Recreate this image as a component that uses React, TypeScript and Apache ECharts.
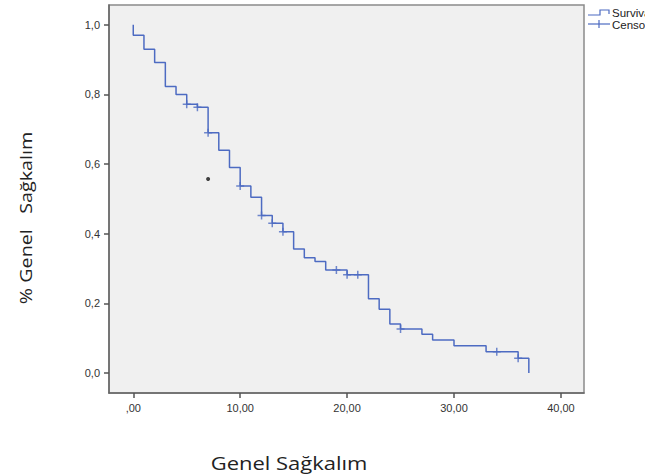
import React, { useEffect, useRef } from 'react';
import * as echarts from 'echarts';

const survivalTimes = [0, 0, 1, 2, 3, 4, 5, 6, 7, 8, 9, 10, 11, 12, 13, 14, 15, 16, 17, 18, 20, 22, 23, 24, 25, 27, 28, 30, 33, 36, 37];
const survivalValues = [1.0, 0.97, 0.93, 0.892, 0.823, 0.8, 0.772, 0.763, 0.69, 0.64, 0.59, 0.537, 0.505, 0.452, 0.43, 0.406, 0.356, 0.331, 0.32, 0.296, 0.282, 0.213, 0.183, 0.141, 0.126, 0.111, 0.095, 0.078, 0.061, 0.042, 0.0];
const censorTimes = [5, 6, 7, 10, 12, 13, 14, 19, 20, 21, 25, 34, 36];
const censorValues = [0.772, 0.763, 0.69, 0.537, 0.452, 0.43, 0.406, 0.296, 0.282, 0.282, 0.126, 0.061, 0.042];
const strayTimes = [7.0];
const strayValues = [0.557];
const xTicks = [0, 10, 20, 30, 40];
const yTicks = [0, 0.2, 0.4, 0.6, 0.8, 1.0];
const legendLabels = ['Survival Function', 'Censored'];
const xTitle = 'Genel Sağkalım';
const yTitle = '% Genel   Sağkalım';

const BLUE = '#4d6bc2';

export default function App() {
  const ref = useRef<HTMLDivElement>(null);
  useEffect(() => {
    if (!ref.current) return;
    const chart = echarts.init(ref.current, null, { renderer: 'svg' });
    const fmtX = (v: number) => (v === 0 ? ',00' : v.toFixed(2).replace('.', ','));
    const fmtY = (v: number) => v.toFixed(1).replace('.', ',');
    chart.setOption({
      animation: false,
      backgroundColor: '#ffffff',
      grid: {
        left: 109, top: 5, right: 61, bottom: 83,
        show: true, backgroundColor: '#f0f0f0', borderColor: '#8a8a8a', borderWidth: 1.5,
      },
      xAxis: {
        type: 'value', min: -2.27, max: 42.16,
        splitLine: { show: false },
        axisLine: { onZero: false, lineStyle: { color: '#666', width: 1.5 } },
        axisTick: { show: true, length: 5, customValues: xTicks, lineStyle: { color: '#555', width: 1.5 } },
        axisLabel: { customValues: xTicks, formatter: fmtX, color: '#333', fontSize: 11, fontFamily: 'Liberation Sans', margin: 9 },
      },
      yAxis: {
        type: 'value', min: -0.0575, max: 1.057,
        splitLine: { show: false },
        axisLine: { onZero: false, lineStyle: { color: '#666', width: 1.5 } },
        axisTick: { show: true, length: 5, customValues: yTicks, lineStyle: { color: '#555', width: 1.5 } },
        axisLabel: { customValues: yTicks, formatter: fmtY, color: '#333', fontSize: 11, fontFamily: 'Liberation Sans', margin: 9 },
      },
      series: [
        {
          type: 'line', step: 'end', symbol: 'none',
          data: survivalTimes.map((t, i) => [t, survivalValues[i]]),
          lineStyle: { color: BLUE, width: 1.5 },
        },
        {
          type: 'scatter', symbol: 'path://M0,5L10,5M5,0L5,10', symbolSize: 8,
          data: censorTimes.map((t, i) => [t, censorValues[i]]),
          itemStyle: { color: 'none', borderColor: BLUE, borderWidth: 1.5 },
        },
        {
          type: 'scatter', symbol: 'circle', symbolSize: 4,
          data: strayTimes.map((t, i) => [t, strayValues[i]]),
          itemStyle: { color: '#111' },
        },
      ],
      graphic: [
        { type: 'polyline', shape: { points: [[588, 15], [600, 15], [600, 10], [609, 10], [609, 14]] }, style: { stroke: BLUE, lineWidth: 1.2, fill: null } },
        { type: 'text', x: 612, y: 13, style: { text: legendLabels[0], fontSize: 11.5, fontFamily: 'Liberation Sans', fill: '#222', verticalAlign: 'middle' } },
        { type: 'line', shape: { x1: 588, y1: 24, x2: 610, y2: 24 }, style: { stroke: BLUE, lineWidth: 1.2 } },
        { type: 'line', shape: { x1: 599, y1: 20, x2: 599, y2: 28 }, style: { stroke: BLUE, lineWidth: 1.2 } },
        { type: 'text', x: 612, y: 25, style: { text: legendLabels[1], fontSize: 11.5, fontFamily: 'Liberation Sans', fill: '#222', verticalAlign: 'middle' } },
        { type: 'text', x: 289, y: 463, scaleX: 1.22, style: { text: xTitle, fontSize: 18, fontFamily: 'Open Sans', fill: '#222', align: 'center', verticalAlign: 'middle' } },
        { type: 'text', x: 25, y: 218, rotation: Math.PI / 2, scaleX: 1.16, style: { text: yTitle, fontSize: 17, fontFamily: 'Open Sans', fill: '#222', align: 'center', verticalAlign: 'middle' } },
      ],
    });
    return () => chart.dispose();
  }, []);
  return (
    <div style={{ position: 'fixed', left: 0, top: 0, width: 660, height: 476, background: '#fff', overflow: 'hidden' }}>
      <div ref={ref} style={{ width: 645, height: 476 }} />
    </div>
  );
}
